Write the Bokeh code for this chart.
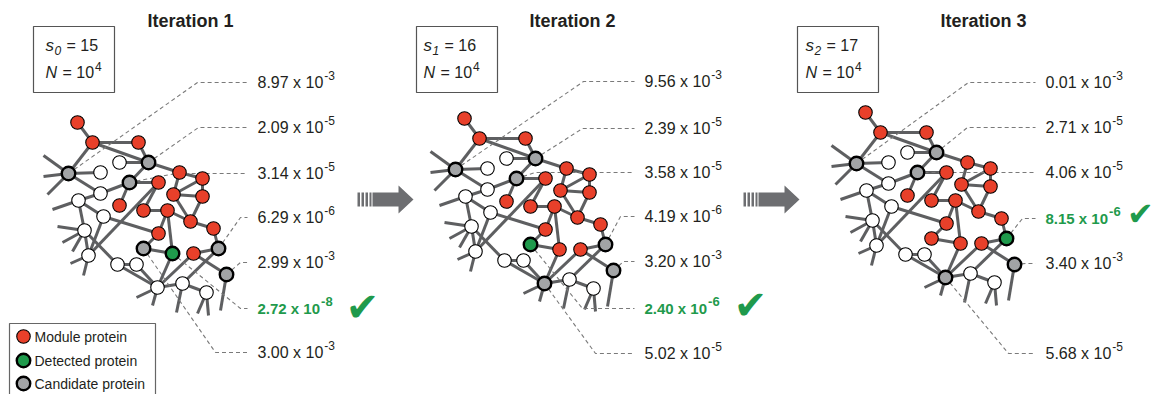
from bokeh.plotting import figure
from bokeh.models import Range1d, ColumnDataSource
from bokeh.embed import file_html
from bokeh.resources import INLINE
from bokeh.core.properties import value

# ---------------- data ----------------
iterations = ["Iteration 1", "Iteration 2", "Iteration 3"]
module_sizes = [15, 16, 17]
sample_exp = 4  # N = 10^4

# base network (Iteration 1 frame)
node_x = [77, 92, 138, 68, 100, 119, 148, 129, 158, 179, 202, 173, 202, 100, 78,
          119, 143, 167, 190, 213, 103, 158, 84, 143, 172, 193, 218, 226, 88, 117,
          136, 157, 182, 206]
node_y = [122, 142, 142, 173, 172, 162, 162, 182, 182, 172, 178, 194, 196, 193, 200,
          205, 210, 210, 221, 228, 216, 233, 230, 248, 253, 253, 248, 274, 255, 264,
          264, 287, 283, 292]
# M = module, D = detected, C = candidate, O = other
types_it1 = list("MMMCOOCCMMMMMOOMMMMMOMOCDMCCOOOOOO")
types_it2 = list("MMMCOOCCMMMMMOOMMMMMOMODMMCCOOOCOO")
types_it3 = list("MMMCOOCCMMMMMOOMMMMMOMOMMMDCOOOCOO")

edge_src = [0, 1, 1, 1, 2, 3, 3, 5, 6, 6, 7, 7, 7, 9, 9, 11, 10, 11, 8, 13, 14, 14,
            20, 20, 22, 22, 28, 29, 29, 30, 21, 16, 17, 18, 18, 18, 17, 17, 23, 24,
            25, 19, 25, 31, 32, 32, 31]
edge_dst = [1, 2, 3, 6, 6, 4, 13, 6, 7, 9, 8, 13, 15, 10, 11, 10, 12, 12, 16, 14, 22, 20,
            21, 28, 28, 29, 8, 30, 31, 31, 23, 17, 18, 19, 11, 12, 24, 21, 24, 31,
            26, 26, 27, 32, 33, 26, 25]
stub_node = [3, 3, 3, 14, 22, 22, 22, 28, 28, 31, 31, 32, 33, 33, 27]
stub_x = [43, 43, 47, 52, 57, 62, 72, 70, 83, 136, 152, 176, 197, 208, 220]
stub_y = [155, 176, 194, 209, 226, 242, 251, 263, 275, 297, 305, 312, 313, 315, 310]

# p-values attached to candidate / detected proteins
pv_nodes = [[3, 6, 7, 26, 27, 24, 23], [3, 6, 7, 26, 27, 23, 31], [3, 6, 7, 26, 27, 31]]
pv_mant = [["8.97", "2.09", "3.14", "6.29", "2.99", "2.72", "3.00"],
           ["9.56", "2.39", "3.58", "4.19", "3.20", "2.40", "5.02"],
           ["0.01", "2.71", "4.06", "8.15", "3.40", "5.68"]]
pv_exp = [["-3", "-5", "-5", "-6", "-3", "-8", "-3"],
          ["-3", "-5", "-5", "-6", "-3", "-6", "-5"],
          ["-3", "-5", "-5", "-6", "-3", "-5"]]

legend_labels = ["Module protein", "Detected protein", "Candidate protein"]

# ---------------- layout ----------------
offsets = [(0, 0), (387, -4), (788, -10)]
title_cx = [190, 572, 983]
box_left = [33, 416, 797]
box_text_x = [45, 423, 805]
label_x = [257, 644, 1045]
elbows = [[(197, 82), (198, 127), (175, 173), (240, 217), (240, 262), (240, 308), (215, 352)],
          [(583, 81), (582, 128), (535, 172), (620, 216), (623, 261), (582, 308), (595, 353)],
          [(968, 82), (967, 127), (925, 172), (1022, 218), (1025, 263), (1008, 353)]]
check_pos = [(362, 306), (750, 304), (1140, 213)]
check_size = ["40px", "40px", "32px"]

RED = "#e8402a"
GREEN = "#1f9a4c"
GRAY = "#a2a4a6"
EDGE = "#5e5f61"
TXT = "#231f20"
TGREEN = "#1f9a4c"
FILL = {"M": RED, "D": GREEN, "C": GRAY, "O": "white"}
LW = {"M": 1.1, "D": 2.4, "C": 2.4, "O": 1.1}

REGW = {c: 0.556 for c in "0123456789"}
REGW.update({".": 0.278, " ": 0.278, "x": 0.5, "-": 0.333, "=": 0.584})
BOLDW = dict(REGW)
BOLDW["x"] = 0.556


def tw(s, size, bold=False):
    m = BOLDW if bold else REGW
    return sum(m.get(c, 0.55) for c in s) * size


W, H = 1156, 394
p = figure(width=W, height=H, x_range=Range1d(0, W), y_range=Range1d(H, 0),
           output_backend="svg", toolbar_location=None, min_border=0,
           x_axis_type=None, y_axis_type=None)
p.grid.visible = False
p.outline_line_color = None
p.background_fill_color = "white"
p.border_fill_color = "white"

FONT = value("Liberation Sans")

for k, (dx, dy) in enumerate(offsets):
    types = [types_it1, types_it2, types_it3][k]
    nx = [x + dx for x in node_x]
    ny = [y + dy for y in node_y]

    # title
    p.text(x=[title_cx[k]], y=[20], text=[iterations[k]], text_font=FONT,
           text_font_size=value("18px"), text_font_style="bold", text_align="center",
           text_baseline="middle", text_color=TXT)

    # parameter box
    bl = box_left[k]
    p.quad(left=[bl], right=[bl + 81], top=[26], bottom=[92], fill_color=None,
           line_color="#555555", line_width=1.2)
    sx = box_text_x[k]
    p.text(x=[sx], y=[45], text=["s"], text_font=FONT, text_font_size=value("17px"),
           text_font_style="italic", text_baseline="middle", text_color=TXT)
    p.text(x=[sx + 9], y=[50], text=[str(k)], text_font=FONT, text_font_size=value("12px"),
           text_font_style="italic", text_baseline="middle", text_color=TXT)
    p.text(x=[sx + 21], y=[45], text=["= %d" % module_sizes[k]], text_font=FONT,
           text_font_size=value("16px"), text_baseline="middle", text_color=TXT)
    p.text(x=[sx], y=[72], text=["N"], text_font=FONT, text_font_size=value("16px"),
           text_font_style="italic", text_baseline="middle", text_color=TXT)
    p.text(x=[sx + 17], y=[72], text=["= 10"], text_font=FONT, text_font_size=value("16px"),
           text_baseline="middle", text_color=TXT)
    p.text(x=[sx + 17 + tw("= 10", 16) + 1], y=[66], text=[str(sample_exp)], text_font=FONT,
           text_font_size=value("12px"), text_baseline="middle", text_color=TXT)

    # edges
    p.segment(x0=[nx[a] for a in edge_src], y0=[ny[a] for a in edge_src],
              x1=[nx[b] for b in edge_dst], y1=[ny[b] for b in edge_dst],
              line_color=EDGE, line_width=3)
    p.segment(x0=[nx[a] for a in stub_node], y0=[ny[a] for a in stub_node],
              x1=[x + dx for x in stub_x], y1=[y + dy for y in stub_y],
              line_color=EDGE, line_width=3)

    # leader lines
    xs, ys = [], []
    lx = label_x[k]
    for n, (ex, ey) in zip(pv_nodes[k], elbows[k]):
        xs.append([nx[n], ex, lx - 10])
        ys.append([ny[n], ey, ey])
    p.multi_line(xs=xs, ys=ys, line_color="#7a7a7a", line_width=1.1, line_dash="4 3")

    # nodes
    src = ColumnDataSource(dict(x=nx, y=ny, fill=[FILL[t] for t in types],
                                lw=[LW[t] for t in types]))
    p.scatter(x="x", y="y", source=src, size=13.5, fill_color="fill",
              line_color="black", line_width="lw")

    # p-value labels
    for n, (ex, ey), m, e in zip(pv_nodes[k], elbows[k], pv_mant[k], pv_exp[k]):
        best = types[n] == "D"
        size = 15 if best else 16
        col = TGREEN if best else TXT
        style = "bold" if best else "normal"
        main = m + " x 10"
        p.text(x=[lx], y=[ey], text=[main], text_font=FONT, text_font_size=value("%dpx" % size),
               text_font_style=style, text_baseline="middle", text_color=col)
        p.text(x=[lx + tw(main, size, best) + 1], y=[ey - 7], text=[e], text_font=FONT,
               text_font_size=value("12px" if not best else "13px"), text_font_style=style,
               text_baseline="middle", text_color=col)
        if best:
            cx, cy = check_pos[k]
            p.text(x=[cx], y=[cy], text=["\u2714"], text_font=value("DejaVu Sans"),
                   text_font_size=value(check_size[k]), text_align="center",
                   text_baseline="middle", text_color=GREEN)

# arrows between iterations
AR = "#6d6e71"
for ax in [357, 743]:
    p.quad(left=[ax, ax + 4, ax + 8, ax + 12], right=[ax + 2.5, ax + 6.5, ax + 10.5, ax + 14],
           top=[192] * 4, bottom=[206] * 4, fill_color=AR, line_color=None)
    p.patch(x=[ax + 15, ax + 41, ax + 41, ax + 56, ax + 41, ax + 41, ax + 15],
            y=[192, 192, 185, 199, 213, 206, 206], fill_color=AR, line_color=None)

# legend
p.quad(left=[9], right=[155], top=[323], bottom=[400], fill_color="white",
       line_color="#666666", line_width=1.2)
leg_y = [336, 360, 383]
p.scatter(x=[23] * 3, y=leg_y, size=13.5, fill_color=[RED, GREEN, GRAY],
          line_color="black", line_width=[1.1, 2.4, 2.4])
p.text(x=[34] * 3, y=leg_y, text=legend_labels, text_font=FONT, text_font_size=value("14px"),
       text_baseline="middle", text_color=TXT)

open("out.html", "w").write(file_html(p, INLINE))
